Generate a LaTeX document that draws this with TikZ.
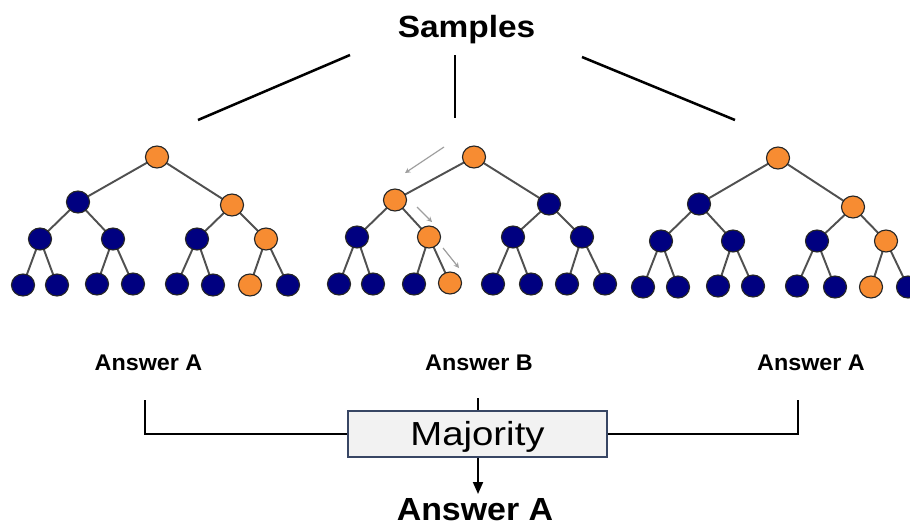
\documentclass[tikz,border=0pt]{standalone}
\usepackage{fontspec}
\setmainfont{Liberation Sans}
\usetikzlibrary{shapes.geometric,arrows.meta}
\definecolor{navy}{RGB}{0,0,128}
\definecolor{orng}{RGB}{247,140,50}
\definecolor{edgec}{RGB}{80,80,80}
\definecolor{boxb}{RGB}{56,70,100}
\definecolor{boxf}{RGB}{242,242,242}
\tikzset{
  tn/.style={ellipse,draw=black!85,line width=0.85pt,minimum width=17.3pt,minimum height=16.5pt,inner sep=0pt},
  bn/.style={tn,fill=navy},
  on/.style={tn,fill=orng},
  te/.style={draw=edgec,line width=1.45pt},
  hint/.style={draw=gray!75,line width=0.9pt,-{Stealth[length=4pt,width=4pt]}},
  topline/.style={line width=1.9pt,black},
  brk/.style={line width=1.4pt,black},
  lab/.style={font=\bfseries\fontsize{17}{20}\selectfont,anchor=base,inner sep=0pt},
}
\begin{document}
\begin{tikzpicture}[x=0.75pt,y=-0.75pt]
\useasboundingbox (0,0) rectangle (910,526);
% title
\node[font=\bfseries\fontsize{23}{27}\selectfont,anchor=base,inner sep=0pt] (samples) at (466.5,37) {\scalebox{1.09}[1]{Samples}};
\coordinate (s1a) at (350,55); \coordinate (s1b) at (198,120);
\coordinate (s2a) at (455,55); \coordinate (s2b) at (455,118);
\coordinate (s3a) at (582,57); \coordinate (s3b) at (735,120);
\draw[topline] (s1a) -- (s1b);
\draw[topline] (s2a) -- (s2b);
\draw[topline] (s3a) -- (s3b);
% ---- tree 1 coordinates
\coordinate (t1r) at (157,157);
\coordinate (t1a) at (78,202);
\coordinate (t1b) at (232,205);
\coordinate (t1aa) at (40,239);
\coordinate (t1ab) at (113,239);
\coordinate (t1ba) at (197,239);
\coordinate (t1bb) at (266,239);
\coordinate (t1l1) at (23,285);
\coordinate (t1l2) at (57,285);
\coordinate (t1l3) at (97,284);
\coordinate (t1l4) at (133,284);
\coordinate (t1l5) at (177,284);
\coordinate (t1l6) at (213,285);
\coordinate (t1l7) at (250,285);
\coordinate (t1l8) at (288,285);
% ---- tree 2 coordinates
\coordinate (t2r) at (474,157);
\coordinate (t2a) at (395,200);
\coordinate (t2b) at (549,204);
\coordinate (t2aa) at (357,237);
\coordinate (t2ab) at (429,237);
\coordinate (t2ba) at (513,237);
\coordinate (t2bb) at (582,237);
\coordinate (t2l1) at (339,284);
\coordinate (t2l2) at (373,284);
\coordinate (t2l3) at (414,284);
\coordinate (t2l4) at (450,283);
\coordinate (t2l5) at (493,284);
\coordinate (t2l6) at (531,284);
\coordinate (t2l7) at (567,284);
\coordinate (t2l8) at (605,284);
% ---- tree 3 coordinates
\coordinate (t3r) at (778,158);
\coordinate (t3a) at (699,204);
\coordinate (t3b) at (853,207);
\coordinate (t3aa) at (661,241);
\coordinate (t3ab) at (733,241);
\coordinate (t3ba) at (817,241);
\coordinate (t3bb) at (886,241);
\coordinate (t3l1) at (643,287);
\coordinate (t3l2) at (678,287);
\coordinate (t3l3) at (718,286);
\coordinate (t3l4) at (753,286);
\coordinate (t3l5) at (797,286);
\coordinate (t3l6) at (835,287);
\coordinate (t3l7) at (871,287);
\coordinate (t3l8) at (908,287);
% edges (under the nodes)
\foreach \t in {1,2,3}{
  \draw[te] (t\t r) -- (t\t a);
  \draw[te] (t\t r) -- (t\t b);
  \draw[te] (t\t a) -- (t\t aa);
  \draw[te] (t\t a) -- (t\t ab);
  \draw[te] (t\t b) -- (t\t ba);
  \draw[te] (t\t b) -- (t\t bb);
  \draw[te] (t\t aa) -- (t\t l1);
  \draw[te] (t\t aa) -- (t\t l2);
  \draw[te] (t\t ab) -- (t\t l3);
  \draw[te] (t\t ab) -- (t\t l4);
  \draw[te] (t\t ba) -- (t\t l5);
  \draw[te] (t\t ba) -- (t\t l6);
  \draw[te] (t\t bb) -- (t\t l7);
  \draw[te] (t\t bb) -- (t\t l8);
}
% tree nodes
\node[on] (n1r) at (t1r) {};
\node[bn] (n1a) at (t1a) {};
\node[on] (n1b) at (t1b) {};
\node[bn] (n1aa) at (t1aa) {};
\node[bn] (n1ab) at (t1ab) {};
\node[bn] (n1ba) at (t1ba) {};
\node[on] (n1bb) at (t1bb) {};
\node[bn] (n1l1) at (t1l1) {};
\node[bn] (n1l2) at (t1l2) {};
\node[bn] (n1l3) at (t1l3) {};
\node[bn] (n1l4) at (t1l4) {};
\node[bn] (n1l5) at (t1l5) {};
\node[bn] (n1l6) at (t1l6) {};
\node[on] (n1l7) at (t1l7) {};
\node[bn] (n1l8) at (t1l8) {};
\node[on] (n2r) at (t2r) {};
\node[on] (n2a) at (t2a) {};
\node[bn] (n2b) at (t2b) {};
\node[bn] (n2aa) at (t2aa) {};
\node[on] (n2ab) at (t2ab) {};
\node[bn] (n2ba) at (t2ba) {};
\node[bn] (n2bb) at (t2bb) {};
\node[bn] (n2l1) at (t2l1) {};
\node[bn] (n2l2) at (t2l2) {};
\node[bn] (n2l3) at (t2l3) {};
\node[on] (n2l4) at (t2l4) {};
\node[bn] (n2l5) at (t2l5) {};
\node[bn] (n2l6) at (t2l6) {};
\node[bn] (n2l7) at (t2l7) {};
\node[bn] (n2l8) at (t2l8) {};
\node[on] (n3r) at (t3r) {};
\node[bn] (n3a) at (t3a) {};
\node[on] (n3b) at (t3b) {};
\node[bn] (n3aa) at (t3aa) {};
\node[bn] (n3ab) at (t3ab) {};
\node[bn] (n3ba) at (t3ba) {};
\node[on] (n3bb) at (t3bb) {};
\node[bn] (n3l1) at (t3l1) {};
\node[bn] (n3l2) at (t3l2) {};
\node[bn] (n3l3) at (t3l3) {};
\node[bn] (n3l4) at (t3l4) {};
\node[bn] (n3l5) at (t3l5) {};
\node[bn] (n3l6) at (t3l6) {};
\node[on] (n3l7) at (t3l7) {};
\node[bn] (n3l8) at (t3l8) {};
% hint arrows in tree 2
\coordinate (h1a) at (444,147); \coordinate (h1b) at (405,173);
\coordinate (h2a) at (417,207); \coordinate (h2b) at (432,222);
\coordinate (h3a) at (443,248); \coordinate (h3b) at (459,268);
\draw[hint] (h1a) -- (h1b);
\draw[hint] (h2a) -- (h2b);
\draw[hint] (h3a) -- (h3b);
% answers
\node[lab] (ans1) at (148.5,370) {\scalebox{1.03}[1]{Answer A}};
\node[lab] (ans2) at (479,370) {\scalebox{1.03}[1]{Answer B}};
\node[lab] (ans3) at (811,370) {\scalebox{1.03}[1]{Answer A}};
% majority
\node[draw=boxb,fill=boxf,line width=1.1pt,minimum width=194pt,minimum height=34.5pt,inner sep=0pt,
      text height=17.9pt,text depth=0pt,font=\fontsize{25}{29}\selectfont] (maj) at (477.5,434) {\scalebox{1.15}[1]{Majority}};
\coordinate (bl) at (145,400);
\coordinate (br) at (798,400);
\coordinate (bt) at (478,398);
\draw[brk] (bl) |- (maj.west);
\draw[brk] (br) |- (maj.east);
\draw[brk] (bt) -- (bt |- maj.north);
\node[font=\bfseries\fontsize{24}{28}\selectfont,anchor=base,inner sep=0pt] (final) at (475,520.5) {\scalebox{1.06}[1]{Answer A}};
\coordinate (ftop) at (478,494);
\draw[brk,-{Triangle[length=9pt,width=7.5pt]}] (maj.south -| ftop) -- (ftop);
\end{tikzpicture}
\end{document}
